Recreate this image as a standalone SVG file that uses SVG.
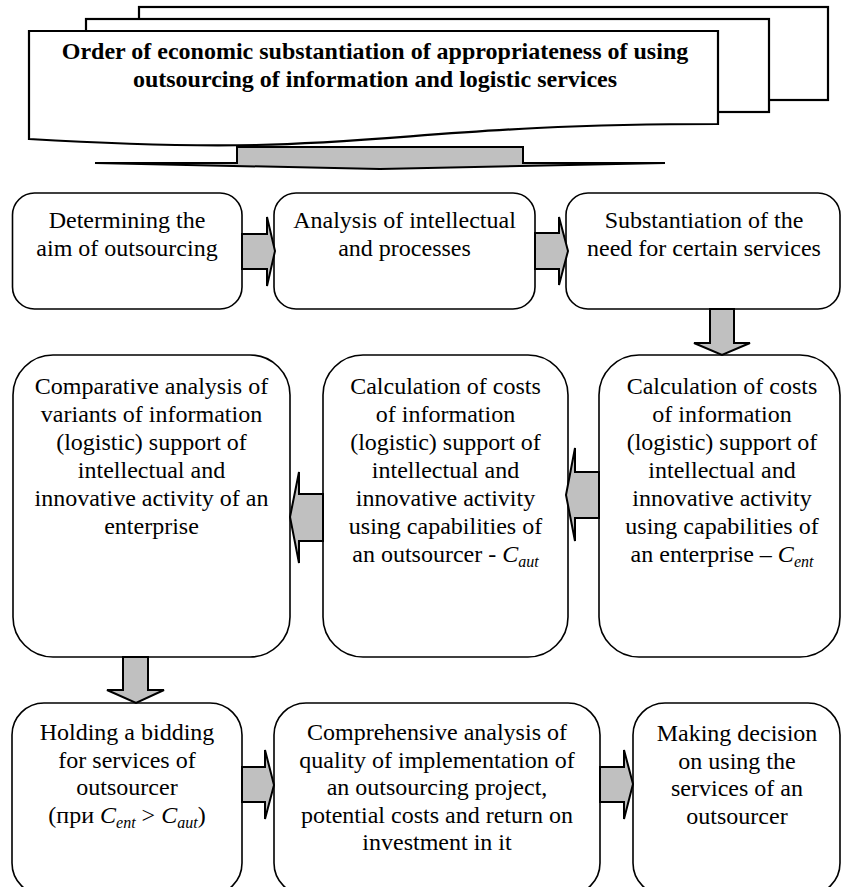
<svg xmlns="http://www.w3.org/2000/svg" width="842" height="887" viewBox="0 0 842 887">
<style>
.page{fill:#fff;stroke:#000;stroke-width:2.2}
.box{fill:#fff;stroke:#000;stroke-width:1.6}
.arr{fill:#c0c0c0;stroke:#000;stroke-width:2;stroke-linejoin:miter}
.t{font-family:"Liberation Serif","Times New Roman",serif;font-size:24px;fill:#000;text-anchor:middle}
.title{font-weight:bold}
.i{font-style:italic}
.s{font-style:italic;font-size:16px}
</style>
<rect width="842" height="887" fill="#fff"/>
<g id="title">
<rect class="page" x="139" y="7" width="689" height="93"/>
<rect class="page" x="86" y="19" width="683" height="93"/>
<path class="page" d="M29,31 H718 V124 C373.5,124 373.5,159.5 29,139 Z"/>
<text class="t title" x="375" y="59">Order of economic substantiation of appropriateness of using</text>
<text class="t title" x="375" y="87">outsourcing of information and logistic services</text>
</g>
<g id="n1">
<rect class="box" x="12.5" y="193" width="229.5" height="116" rx="22"/>
<text class="t" x="127" y="228">Determining the<tspan x="127" dy="28">aim of outsourcing</tspan></text>
</g>
<g id="n2">
<rect class="box" x="274" y="193" width="261" height="116" rx="22"/>
<text class="t" x="404.5" y="228">Analysis of intellectual<tspan x="404.5" dy="28">and processes</tspan></text>
</g>
<g id="n3">
<rect class="box" x="566" y="193" width="274" height="116" rx="22"/>
<text class="t" x="704" y="228">Substantiation of the<tspan x="704" dy="28">need for certain services</tspan></text>
</g>
<g id="n4">
<rect class="box" x="13" y="355" width="277" height="302" rx="40"/>
<text class="t" x="151.5" y="394">Comparative analysis of<tspan x="151.5" dy="28">variants of information</tspan><tspan x="151.5" dy="28">(logistic) support of</tspan><tspan x="151.5" dy="28">intellectual and</tspan><tspan x="151.5" dy="28">innovative activity of an</tspan><tspan x="151.5" dy="28">enterprise</tspan></text>
</g>
<g id="n5">
<rect class="box" x="323" y="355" width="245" height="302" rx="40"/>
<text class="t" x="445.5" y="394">Calculation of costs<tspan x="445.5" dy="28">of information</tspan><tspan x="445.5" dy="28">(logistic) support of</tspan><tspan x="445.5" dy="28">intellectual and</tspan><tspan x="445.5" dy="28">innovative activity</tspan><tspan x="445.5" dy="28">using capabilities of</tspan><tspan x="445.5" dy="28">an outsourcer - <tspan class="i">C</tspan><tspan class="s" dy="5">aut</tspan></tspan></text>
</g>
<g id="n6">
<rect class="box" x="599" y="355" width="241" height="302" rx="40"/>
<text class="t" x="722" y="394">Calculation of costs<tspan x="722" dy="28">of information</tspan><tspan x="722" dy="28">(logistic) support of</tspan><tspan x="722" dy="28">intellectual and</tspan><tspan x="722" dy="28">innovative activity</tspan><tspan x="722" dy="28">using capabilities of</tspan><tspan x="722" dy="28">an enterprise – <tspan class="i">C</tspan><tspan class="s" dy="5">ent</tspan></tspan></text>
</g>
<g id="n7">
<rect class="box" x="12" y="703" width="230" height="192" rx="32"/>
<text class="t" x="127" y="740">Holding a bidding<tspan x="127" dy="27.5">for services of</tspan><tspan x="127" dy="27.5">outsourcer</tspan><tspan x="127" dy="27.5">(при <tspan class="i">C</tspan><tspan class="s" dy="5">ent</tspan><tspan dy="-5"> &gt; </tspan><tspan class="i">C</tspan><tspan class="s" dy="5">aut</tspan><tspan dy="-5">)</tspan></tspan></text>
</g>
<g id="n8">
<rect class="box" x="274" y="703" width="326" height="192" rx="32"/>
<text class="t" x="437" y="740">Comprehensive analysis of<tspan x="437" dy="27.5">quality of implementation of</tspan><tspan x="437" dy="27.5">an outsourcing project,</tspan><tspan x="437" dy="27.5">potential costs and return on</tspan><tspan x="437" dy="27.5">investment in it</tspan></text>
</g>
<g id="n9">
<rect class="box" x="633" y="703" width="207" height="192" rx="32"/>
<text class="t" x="737" y="741">Making decision<tspan x="737" dy="27.5">on using the</tspan><tspan x="737" dy="27.5">services of an</tspan><tspan x="737" dy="27.5">outsourcer</tspan></text>
</g>
<g id="connectors">
<path class="arr" d="M237,147 H523 V163 H665 L380,169 L95,163 H237 Z" stroke-width="3"/>
<path class="arr" d="M242,234 H267 V217 L275,251 L267,286 V269 H242 Z"/>
<path class="arr" d="M535,233 H559 V217 L568,251 L559,285 V269 H535 Z"/>
<path class="arr" d="M710,309 V343 H694 L722,355 L750,343 H734 V309 Z"/>
<path class="arr" d="M599,472 H575 V448 L566,495 L575,541 V518 H599 Z"/>
<path class="arr" d="M323,494 H299 V472 L290,517 L299,563 V541 H323 Z"/>
<path class="arr" d="M123,657 V690 H107 L136,703 L164,690 H148 V657 Z"/>
<path class="arr" d="M242,767 H265 V750 L274,785 L265,819 V802 H242 Z"/>
<path class="arr" d="M600,767 H624 V750 L633,784 L624,819 V802 H600 Z"/>
</g>
</svg>
